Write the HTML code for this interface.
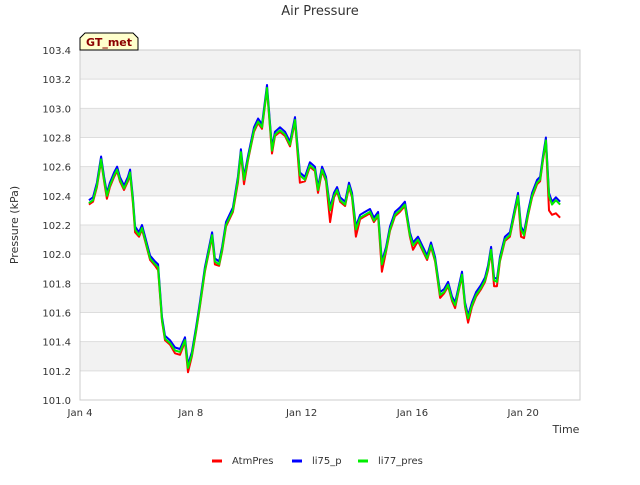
<!DOCTYPE html>
<html><head><meta charset="utf-8"><style>
body{margin:0;background:#fff;font-family:"Liberation Sans",sans-serif}
svg text{font-family:"DejaVu Sans","Liberation Sans",sans-serif}
</style></head><body>
<svg id="c" width="640" height="480" xmlns="http://www.w3.org/2000/svg">
<text x="320" y="15" text-anchor="middle" font-size="13" fill="#333">Air Pressure</text>
<g id="bands"></g><g id="grid"></g>
<rect x="80" y="50" width="500" height="350" fill="none" stroke="#ccc"/>
<g id="ticks"></g><g id="series"></g>
<text transform="translate(18,225) rotate(-90)" text-anchor="middle" font-size="11" fill="#333">Pressure (kPa)</text>
<text x="566" y="433" text-anchor="middle" font-size="11" fill="#333">Time</text>
<g>
<path d="M80,50 L80,38 L85,33 L133,33 L138,38 L138,50 Z" fill="#ffffcc" stroke="#000"/>
<text x="109" y="46" text-anchor="middle" font-size="11" font-weight="bold" fill="#8b0000">GT_met</text></g>
<g id="legend"></g>
</svg>
<script>
const yTicks=[101.0,101.2,101.4,101.6,101.8,102.0,102.2,102.4,102.6,102.8,103.0,103.2,103.4];
const xTickDays=[0,4,8,12,16];
const xTickLabels=["Jan 4","Jan 8","Jan 12","Jan 16","Jan 20"];
const seriesNames=["AtmPres","li75_p","li77_pres"];
const seriesColors=["#ff0000","#0000ff","#00ee00"];
const times=[.32,.47,.61,.76,.87,.97,1.08,1.23,1.34,1.44,1.59,1.73,1.81,1.91,1.99,2.13,2.24,2.35,2.53,2.71,2.82,2.96,3.07,3.25,3.43,3.61,3.79,3.90,4.04,4.19,4.33,4.51,4.77,4.87,5.02,5.13,5.27,5.52,5.70,5.81,5.92,6.06,6.28,6.43,6.57,6.75,6.93,7.04,7.22,7.40,7.58,7.76,7.94,8.12,8.30,8.48,8.59,8.74,8.88,9.03,9.17,9.28,9.39,9.57,9.71,9.82,9.96,10.11,10.29,10.47,10.61,10.76,10.90,11.05,11.19,11.37,11.55,11.73,11.91,12.02,12.20,12.38,12.53,12.67,12.82,13.00,13.14,13.29,13.43,13.54,13.65,13.79,13.90,14.01,14.15,14.30,14.48,14.62,14.73,14.84,14.95,15.05,15.16,15.34,15.52,15.67,15.81,15.92,16.03,16.17,16.32,16.50,16.61,16.71,16.82,16.93,17.04,17.18,17.33];
const atmPres=[102.34,102.36,102.46,102.64,102.50,102.38,102.46,102.53,102.57,102.50,102.44,102.50,102.55,102.35,102.15,102.12,102.17,102.09,101.96,101.92,101.89,101.54,101.41,101.38,101.32,101.31,101.40,101.19,101.30,101.47,101.64,101.88,102.12,101.93,101.92,102.02,102.19,102.29,102.49,102.69,102.48,102.64,102.84,102.90,102.86,103.13,102.69,102.81,102.84,102.81,102.74,102.91,102.49,102.50,102.60,102.57,102.42,102.57,102.50,102.22,102.39,102.43,102.36,102.33,102.46,102.39,102.12,102.24,102.26,102.28,102.22,102.26,101.88,102.02,102.16,102.26,102.29,102.33,102.12,102.03,102.09,102.02,101.96,102.05,101.95,101.70,101.73,101.78,101.68,101.63,101.73,101.85,101.64,101.53,101.64,101.71,101.76,101.81,101.89,102.02,101.78,101.78,101.95,102.09,102.12,102.26,102.39,102.12,102.11,102.26,102.39,102.48,102.50,102.64,102.77,102.30,102.27,102.28,102.25];
const li75=[102.37,102.39,102.49,102.67,102.53,102.42,102.49,102.56,102.60,102.53,102.47,102.53,102.58,102.39,102.19,102.15,102.20,102.12,101.99,101.95,101.93,101.57,101.44,101.41,101.36,101.35,101.43,101.24,101.33,101.50,101.67,101.91,102.15,101.97,101.95,102.05,102.22,102.32,102.53,102.72,102.53,102.67,102.87,102.93,102.89,103.16,102.73,102.84,102.87,102.84,102.77,102.94,102.56,102.53,102.63,102.60,102.46,102.60,102.53,102.32,102.42,102.46,102.39,102.36,102.49,102.42,102.19,102.27,102.29,102.31,102.25,102.29,101.95,102.05,102.19,102.29,102.32,102.36,102.15,102.08,102.12,102.05,101.99,102.08,101.98,101.74,101.76,101.81,101.71,101.67,101.76,101.88,101.67,101.58,101.67,101.74,101.79,101.84,101.92,102.05,101.84,101.83,101.98,102.12,102.15,102.29,102.42,102.19,102.15,102.29,102.42,102.51,102.53,102.67,102.80,102.42,102.36,102.39,102.36];
const li77=[102.35,102.37,102.47,102.65,102.51,102.40,102.47,102.54,102.58,102.51,102.45,102.51,102.56,102.37,102.17,102.13,102.18,102.10,101.97,101.93,101.91,101.55,101.42,101.39,101.34,101.33,101.41,101.22,101.31,101.48,101.65,101.89,102.13,101.95,101.93,102.03,102.20,102.30,102.51,102.70,102.51,102.65,102.85,102.91,102.87,103.14,102.71,102.82,102.85,102.82,102.75,102.92,102.54,102.51,102.61,102.58,102.44,102.58,102.51,102.30,102.40,102.44,102.37,102.34,102.47,102.40,102.17,102.25,102.27,102.29,102.23,102.27,101.93,102.03,102.17,102.27,102.30,102.34,102.13,102.06,102.10,102.03,101.97,102.06,101.96,101.72,101.74,101.79,101.69,101.65,101.74,101.86,101.65,101.56,101.65,101.72,101.77,101.82,101.90,102.03,101.82,101.81,101.96,102.10,102.13,102.27,102.40,102.17,102.13,102.27,102.40,102.49,102.51,102.65,102.78,102.40,102.34,102.37,102.34];
const NS="http://www.w3.org/2000/svg";
const X0=80,X1=580,Y0=400,Y1=50,D0=0,D1=18.05,V0=101.0,V1=103.4;
function xs(d){return X0+(d-D0)/(D1-D0)*(X1-X0);}
function ys(v){return Y0-(v-V0)/(V1-V0)*(Y0-Y1);}
function mk(tag,attrs,parent){const e=document.createElementNS(NS,tag);for(const k in attrs)e.setAttribute(k,attrs[k]);parent.appendChild(e);return e;}
const bands=document.getElementById('bands'),grid=document.getElementById('grid'),ticks=document.getElementById('ticks');
for(let i=0;i<yTicks.length-1;i++){
  if((yTicks.length-2-i)%2===0){
    const r=mk('rect',{x:X0,y:ys(yTicks[i+1]),width:X1-X0,height:ys(yTicks[i])-ys(yTicks[i+1]),fill:'#f2f2f2'},bands);
    
    
  }
}
yTicks.forEach(v=>{
  const l=mk('line',{x1:X0,x2:X1,y1:ys(v),y2:ys(v),stroke:'#dddddd'},grid);
  
  
  const t=mk('text',{x:X0-9,y:ys(v)+4,'text-anchor':'end','font-size':'10',fill:'#333'},ticks);
  t.textContent=v.toFixed(1);
  
  
});
xTickDays.forEach((d,i)=>{
  const t=mk('text',{x:xs(d),y:Y0+16,'text-anchor':'middle','font-size':'10',fill:'#333'},ticks);
  t.textContent=xTickLabels[i];
  
  
});
const sdata=[atmPres,li75,li77];
const sg=document.getElementById('series');
sdata.forEach((vals,si)=>{
  const pts=vals.map((v,i)=>xs(times[i]).toFixed(1)+','+ys(v).toFixed(1)).join(' ');
  const p=mk('polyline',{points:pts,fill:'none',stroke:seriesColors[si],'stroke-width':'2','stroke-linejoin':'round'},sg);
  
  
});
const lg=document.getElementById('legend');
const lx=[212,292,358];
seriesNames.forEach((n,i)=>{
  const g=mk('g',{},lg);
  
  
  mk('line',{x1:lx[i],x2:lx[i]+10,y1:461,y2:461,stroke:seriesColors[i],'stroke-width':'3'},g);
  const t=mk('text',{x:lx[i]+20,y:464,'font-size':'10',fill:'#333'},g);
  t.textContent=n;
});
</script>
</body></html>
